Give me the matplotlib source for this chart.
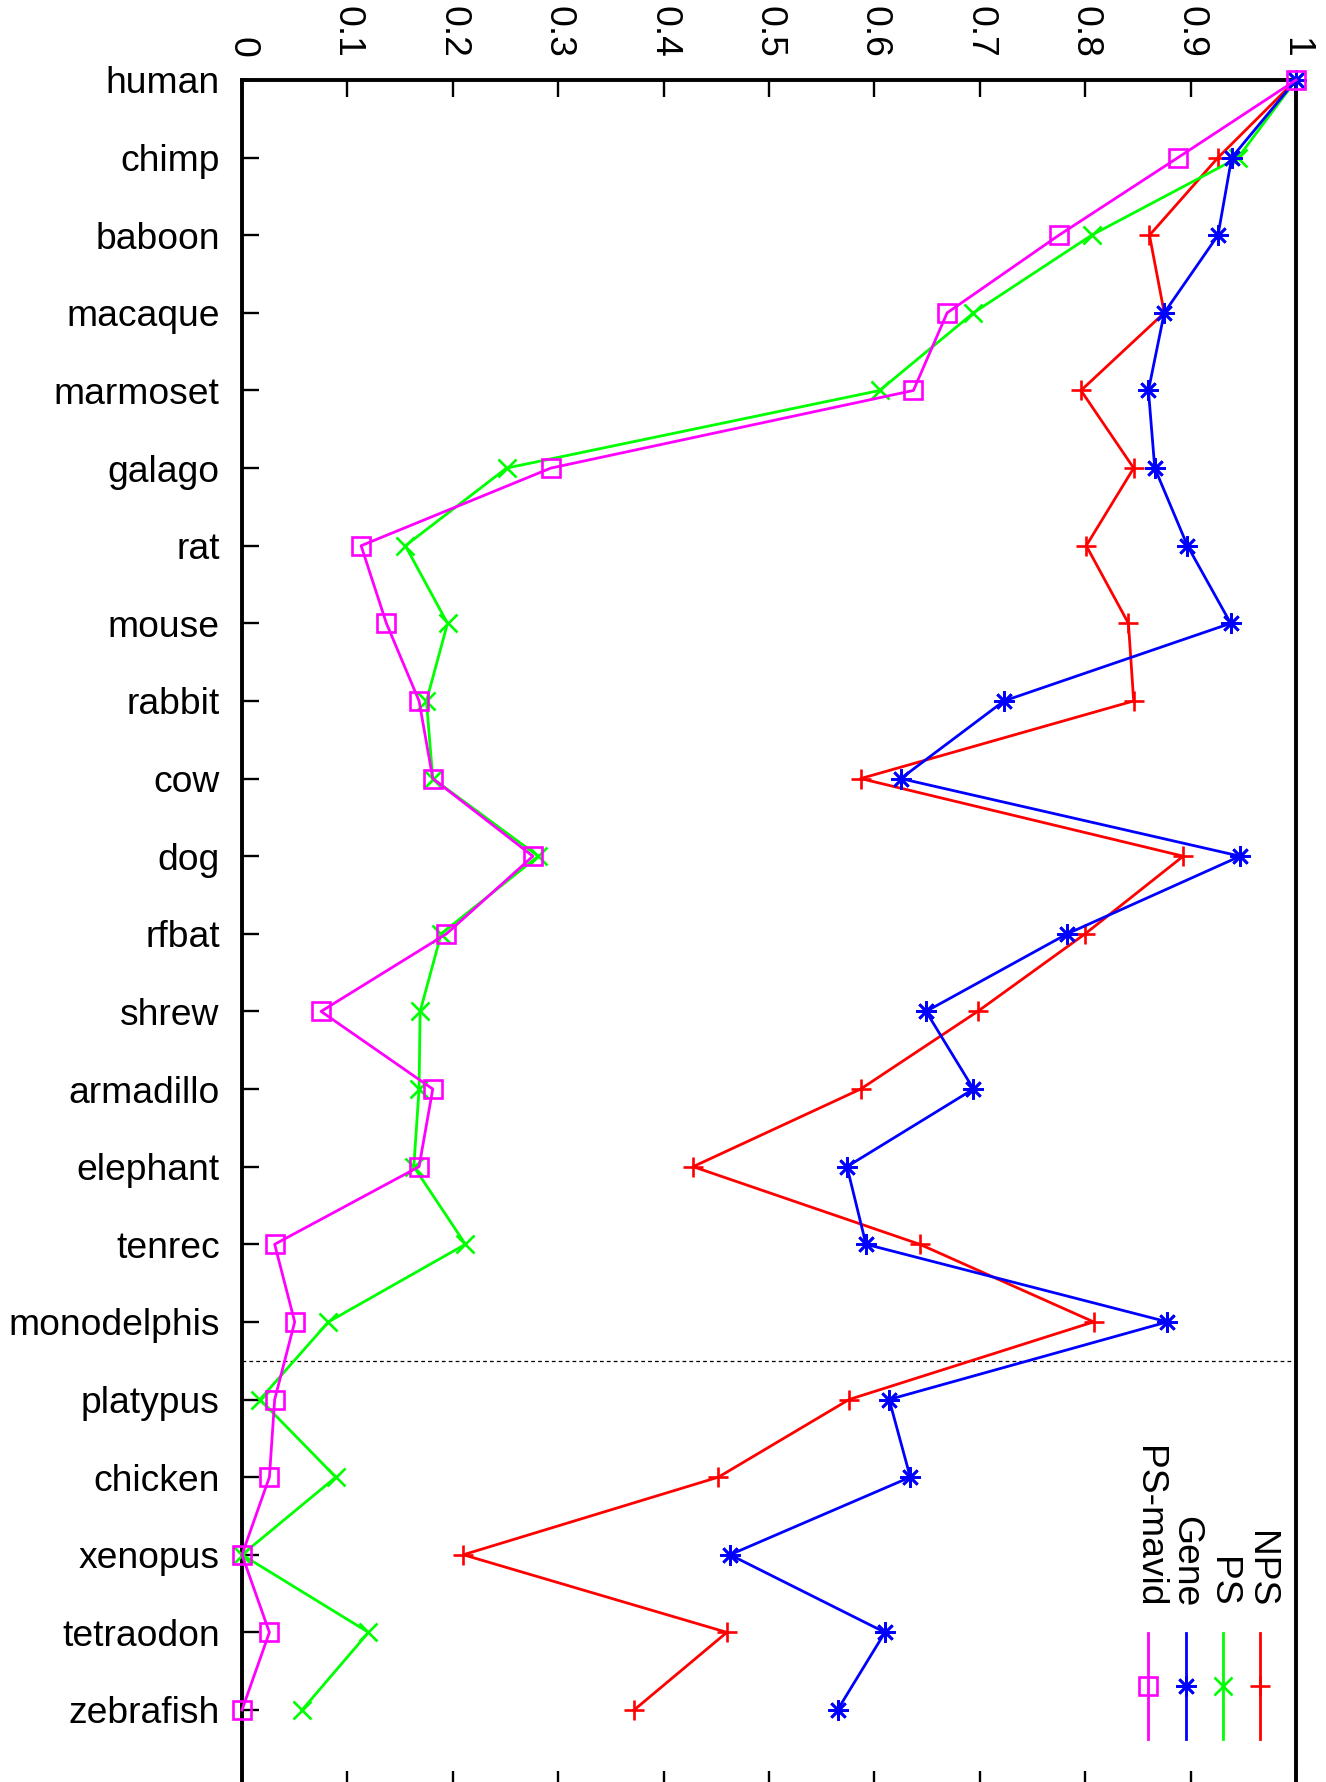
import matplotlib
matplotlib.use("Agg")
import matplotlib.pyplot as plt
from matplotlib.lines import Line2D

plt.rcParams['font.family'] = ['Liberation Sans', 'DejaVu Sans']

species = ["human", "chimp", "baboon", "macaque", "marmoset", "galago", "rat",
           "mouse", "rabbit", "cow", "dog", "rfbat", "shrew", "armadillo",
           "elephant", "tenrec", "monodelphis", "platypus", "chicken",
           "xenopus", "tetraodon", "zebrafish"]

nps = [1.0, 0.926, 0.861, 0.875, 0.796, 0.846, 0.801, 0.841, 0.846, 0.587,
       0.893, 0.800, 0.698, 0.587, 0.428, 0.643, 0.808, 0.576, 0.452, 0.210,
       0.460, 0.372]
ps = [1.0, 0.945, 0.806, 0.694, 0.605, 0.251, 0.155, 0.195, 0.175, 0.181,
      0.281, 0.189, 0.169, 0.168, 0.163, 0.212, 0.082, 0.017, 0.089, 0.0,
      0.120, 0.057]
gene = [1.0, 0.939, 0.926, 0.875, 0.860, 0.866, 0.897, 0.938, 0.723, 0.625,
        0.947, 0.783, 0.649, 0.694, 0.574, 0.592, 0.878, 0.614, 0.634, 0.463,
        0.610, 0.565]
ps_mavid = [1.0, 0.888, 0.775, 0.669, 0.637, 0.293, 0.113, 0.137, 0.168, 0.181,
            0.276, 0.194, 0.075, 0.181, 0.168, 0.031, 0.050, 0.031, 0.026, 0.0,
            0.026, 0.0]

xticks = [0, 0.1, 0.2, 0.3, 0.4, 0.5, 0.6, 0.7, 0.8, 0.9, 1]
xtick_labels = ["0", "0.1", "0.2", "0.3", "0.4", "0.5", "0.6", "0.7", "0.8", "0.9", "1"]

series_names = ["NPS", "PS", "Gene", "PS-mavid"]
series_vals = [nps, ps, gene, ps_mavid]
colors = ["#ff0000", "#00ff00", "#0000ff", "#ff00ff"]
asterisk = (8, 2, 0)
markers = ["+", "x", asterisk, "s"]
msizes = [14, 12.5, 14.5, 12.5]

FS = 26.8
LW = 2.0
W, H = 1326, 1782
fig = plt.figure(figsize=(W / 100, H / 100), dpi=100)
ax_left, ax_right, ax_top, ax_bot = 242, 1296, 80, 1787.6
ax = fig.add_axes([ax_left / W, 1 - ax_bot / H, (ax_right - ax_left) / W,
                   (ax_bot - ax_top) / H])

ypos = list(range(len(species)))
for vals, c, m, ms in zip(series_vals, colors, markers, msizes):
    ax.plot(vals, ypos, color=c, lw=LW, marker=m, ms=ms, mew=1.9,
            mfc='none', mec=c, clip_on=False, zorder=3)

ax.set_xlim(0, 1)
ax.set_ylim(22, 0)
ax.axhline(16.5, color='black', lw=0.9, ls=(0, (3, 2.5)), zorder=2)

ax.set_yticks(ypos)
ax.set_yticklabels(species, fontsize=FS)
ax.set_xticks(xticks)
ax.set_xticklabels(xtick_labels, fontsize=FS, rotation=-90)
ax.xaxis.tick_top()
ax.tick_params(axis='x', which='both', top=True, bottom=True, labeltop=True,
               labelbottom=False, direction='in', length=12, width=1.7, pad=16)
ax.tick_params(axis='y', left=True, right=False, direction='in', length=12,
               width=1.7, pad=16)
for s in ax.spines.values():
    s.set_linewidth(2.8)

# legend (rotated, bottom right)
leg_x = [1260, 1223, 1186, 1148]
text_end_y = 1607
line_y0, line_y1 = 1633, 1739
for name, c, m, ms, lx in zip(series_names, colors, markers, msizes, leg_x):
    fx = lx / W
    fig.text(fx, 1 - text_end_y / H, name, rotation=-90, ha='center',
             va='bottom', fontsize=FS)
    fig.add_artist(Line2D([fx, fx], [1 - line_y0 / H, 1 - line_y1 / H],
                          transform=fig.transFigure, color=c, lw=LW))
    fig.add_artist(Line2D([fx], [1 - (line_y0 + line_y1) / 2 / H],
                          transform=fig.transFigure, color=c, marker=m, ms=ms,
                          mew=1.9, mfc='none', mec=c))

fig.savefig("out.png", dpi=100)
